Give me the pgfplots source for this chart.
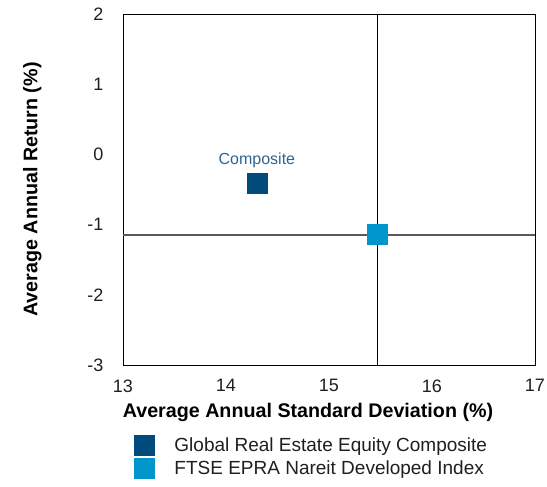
\documentclass[border=0pt]{standalone}
\usepackage{fontspec}
\setmainfont{Liberation Sans}
\usepackage{pgfplots}
\pgfplotsset{compat=1.18}
\definecolor{compdark}{HTML}{004B7C}
\definecolor{idxlight}{HTML}{0096CC}
\definecolor{lbltext}{HTML}{2E6494}
\begin{document}
\begin{tikzpicture}
\begin{axis}[
  name=ax,
  width=412pt, height=351pt, scale only axis,
  xmin=13, xmax=17, ymin=-3, ymax=2,
  xtick={13,14,15,16,17}, ytick={-3,-2,-1,0,1,2},
  tick style={draw=none},
  /pgf/number format/assume math mode=true,
  ticklabel style={font=\fontsize{18}{21}\selectfont, text=black!88},
  xticklabel style={yshift=-11pt},
  yticklabel style={xshift=-16pt},
  xlabel={\textbf{Average Annual Standard Deviation (\%)}},
  ylabel={\textbf{Average Annual Return (\%)}},
  xlabel style={font=\fontsize{19.7}{23}\selectfont, at={(axis description cs:0.449,-0.136)}, anchor=center},
  ylabel style={font=\fontsize{19.7}{23}\selectfont, at={(axis description cs:-0.22,0.5)}, anchor=center},
  axis line style={black, line width=0.8pt},
  legend style={draw=none, at={(0.02,-0.193)}, anchor=north west,
    font=\fontsize{19}{22}\selectfont, row sep=3pt, text=black!88,
    /tikz/every odd column/.append style={column sep=18pt}},
  legend cell align=left,
  clip=false,
]
\addplot[black, line width=0.9pt, forget plot] coordinates {(15.47,-3) (15.47,2)};
\addplot[black!65, line width=1.3pt, forget plot] coordinates {(13,-1.15) (17,-1.15)};
\addplot[only marks, mark=square*, mark size=10pt, color=compdark]
  coordinates {(14.30,-0.41)} node[above=12pt, text=lbltext, font=\fontsize{16}{19}\selectfont] {Composite};
\addplot[only marks, mark=square*, mark size=10pt, color=idxlight]
  coordinates {(15.47,-1.14)};
\legend{Global Real Estate Equity Composite, FTSE EPRA Nareit Developed Index}
\end{axis}
\pgfresetboundingbox
\path (ax.south west) ++(-123pt,-122pt) coordinate (bl);
\path (ax.north east) ++(12pt,14pt) coordinate (tr);
\useasboundingbox (bl) rectangle (tr);
\end{tikzpicture}
\end{document}
